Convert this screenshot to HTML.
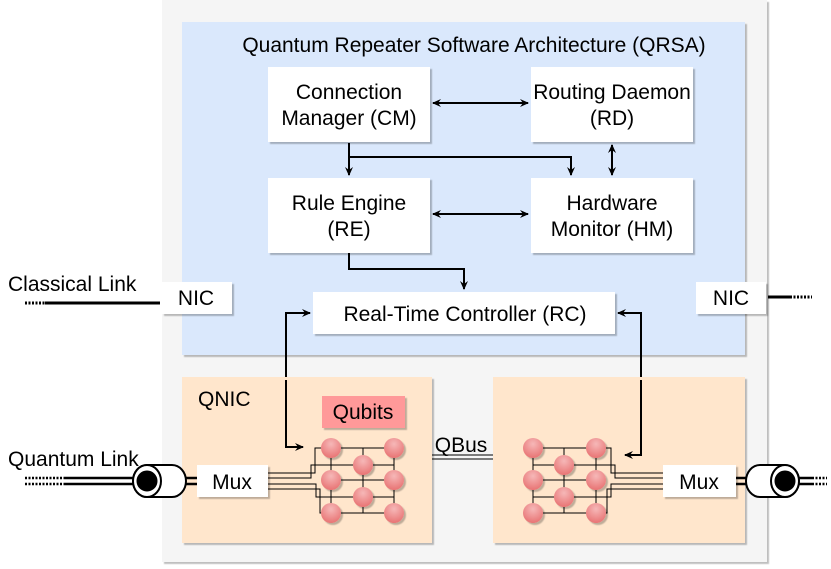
<!DOCTYPE html>
<html><head><meta charset="utf-8"><style>
html,body{margin:0;padding:0;background:#fff}
svg{display:block}
text{font-family:"Liberation Sans",sans-serif;fill:#000}
</style></head><body>
<svg width="831" height="569" viewBox="0 0 831 569" xmlns="http://www.w3.org/2000/svg">
<defs>
<marker id="a" markerWidth="10" markerHeight="10" refX="8" refY="5" orient="auto-start-reverse" markerUnits="userSpaceOnUse"><path d="M0,1 L9,5 L0,9 L3,5 Z" fill="#000"/></marker>
<radialGradient id="q" cx="0.5" cy="0.3" r="0.7"><stop offset="0" stop-color="#f6b8b8"/><stop offset="1" stop-color="#e87474"/></radialGradient>
<filter id="s" x="-10%" y="-10%" width="130%" height="130%"><feDropShadow dx="2" dy="2" stdDeviation="0.5" flood-color="#000" flood-opacity="0.25"/></filter>
</defs>
<rect x="162" y="0" width="605" height="562" fill="#f5f5f5" filter="url(#s)"/>
<rect x="182" y="22" width="563" height="333" fill="#dae8fc" filter="url(#s)"/>
<text x="474" y="52" font-size="21" text-anchor="middle">Quantum Repeater Software Architecture (QRSA)</text>
<g filter="url(#s)" fill="#fff">
<rect x="268" y="67" width="162" height="75"/>
<rect x="531" y="67" width="162" height="75"/>
<rect x="268" y="178" width="162" height="75"/>
<rect x="531" y="178" width="162" height="75"/>
<rect x="313" y="292" width="302" height="42"/>
<rect x="162" y="282" width="70" height="32"/>
<rect x="696" y="282" width="70" height="32"/>
</g>
<g font-size="21" text-anchor="middle">
<text x="349" y="99">Connection</text><text x="349" y="125">Manager (CM)</text>
<text x="612" y="99">Routing Daemon</text><text x="612" y="125">(RD)</text>
<text x="349" y="210">Rule Engine</text><text x="349" y="236">(RE)</text>
<text x="612" y="210">Hardware</text><text x="612" y="236">Monitor (HM)</text>
<text x="465" y="321">Real-Time Controller (RC)</text>
<text x="196" y="305">NIC</text><text x="731" y="305">NIC</text>
<text x="461" y="452">QBus</text>
</g>
<g font-size="21">
<text x="8" y="291">Classical Link</text>
<text x="8" y="466">Quantum Link</text>
</g>
<g stroke="#000" stroke-width="2" fill="none">
<line x1="433" y1="103" x2="528" y2="103" marker-start="url(#a)" marker-end="url(#a)"/>
<line x1="433" y1="214" x2="528" y2="214" marker-start="url(#a)" marker-end="url(#a)"/>
<line x1="612" y1="145" x2="612" y2="175" marker-start="url(#a)" marker-end="url(#a)"/>
<line x1="349" y1="143" x2="349" y2="175" marker-end="url(#a)"/>
<polyline points="349,157 571,157 571,175" marker-end="url(#a)"/>
<polyline points="349,253 349,269 464,269 464,289" marker-end="url(#a)"/>
<polyline points="286,380 286,313 310,313" marker-end="url(#a)"/>
<polyline points="641,380 641,313 618,313" marker-end="url(#a)"/>
<line x1="45" y1="303" x2="160" y2="303" stroke-width="3"/>
<line x1="768" y1="297" x2="790" y2="297" stroke-width="3"/>
</g>
<g stroke="#000" stroke-width="3" stroke-dasharray="2,1.5">
<line x1="25" y1="303" x2="45" y2="303"/><line x1="790" y1="297" x2="812" y2="297"/>
</g>
<rect x="182" y="377" width="250" height="166" fill="#ffe6cc" filter="url(#s)"/>
<rect x="493" y="377" width="252" height="166" fill="#ffe6cc" filter="url(#s)"/>
<text x="198" y="406" font-size="21">QNIC</text>
<rect x="322" y="396" width="83" height="32" fill="#ff9999" filter="url(#s)"/>
<text x="363" y="419" font-size="21" text-anchor="middle">Qubits</text>
<g stroke="#000" stroke-width="2" fill="none">
<polyline points="286,380 286,447 303,447" marker-end="url(#a)"/>
<polyline points="641,380 641,455 625,455" marker-end="url(#a)"/>
</g>
<line x1="432" y1="455" x2="493" y2="455" stroke="#000"/><line x1="432" y1="459" x2="493" y2="459" stroke="#000"/>
<rect x="197" y="465" width="71" height="32" fill="#fff" filter="url(#s)"/>
<text x="232" y="489" font-size="21" text-anchor="middle">Mux</text>
<rect x="663" y="465" width="73" height="32" fill="#fff" filter="url(#s)"/>
<text x="699" y="489" font-size="21" text-anchor="middle">Mux</text>
<g stroke="#000" stroke-width="1" fill="none">
<path d="M331,448H394M331,480H394M331,513H394M363,465H394M363,497H394M331,448V513M363,448V513M394,448V513"/>
<path d="M268,473H315V448H331M268,478H311V465H363M268,484H316V497H363M268,489H320V513H331"/>
<path d="M533,448H596M533,480H596M533,513H596M533,465H564M533,497H564M533,448V513M564,448V513M596,448V513"/>
<path d="M663,473H611V448H596M663,478H615V465H564M663,484H611V497H564M663,489H607V513H596"/>
</g>
<g fill="url(#q)" filter="url(#s)">
<circle cx="331" cy="448" r="10"/><circle cx="394" cy="448" r="10"/><circle cx="363" cy="465" r="10"/>
<circle cx="331" cy="480" r="10"/><circle cx="394" cy="480" r="10"/><circle cx="363" cy="497" r="10"/>
<circle cx="331" cy="513" r="10"/><circle cx="394" cy="513" r="10"/>
<circle cx="533" cy="448" r="10"/><circle cx="596" cy="448" r="10"/><circle cx="564" cy="465" r="10"/>
<circle cx="533" cy="480" r="10"/><circle cx="596" cy="480" r="10"/><circle cx="564" cy="497" r="10"/>
<circle cx="533" cy="513" r="10"/><circle cx="596" cy="513" r="10"/>
</g>
<g stroke="#000" fill="none">
<line x1="65" y1="478" x2="135" y2="478" stroke-width="2.5"/><line x1="65" y1="484" x2="135" y2="484" stroke-width="2.5"/>
<line x1="25" y1="478" x2="65" y2="478" stroke-width="2.5" stroke-dasharray="2,1.5"/><line x1="25" y1="484" x2="65" y2="484" stroke-width="2.5" stroke-dasharray="2,1.5"/>
<line x1="185" y1="478" x2="197" y2="478" stroke-width="2.5"/><line x1="185" y1="484" x2="197" y2="484" stroke-width="2.5"/>
<path d="M147,465 H172 A14,16 0 0 1 172,497 H147 A14,16 0 0 1 147,465 Z" fill="#fff" stroke-width="2"/>
<ellipse cx="147" cy="481" rx="14" ry="16" fill="#fff" stroke-width="2"/>
<circle cx="147" cy="481" r="10" fill="#000"/>
<line x1="736" y1="478" x2="748" y2="478" stroke-width="2.5"/><line x1="736" y1="484" x2="748" y2="484" stroke-width="2.5"/>
<line x1="795" y1="478" x2="812" y2="478" stroke-width="2.5"/><line x1="795" y1="484" x2="812" y2="484" stroke-width="2.5"/>
<line x1="812" y1="478" x2="827" y2="478" stroke-width="2.5" stroke-dasharray="2,1.5"/><line x1="812" y1="484" x2="827" y2="484" stroke-width="2.5" stroke-dasharray="2,1.5"/>
<path d="M760,465 H785 A14,16 0 0 1 785,497 H760 A14,16 0 0 1 760,465 Z" fill="#fff" stroke-width="2"/>
<ellipse cx="785" cy="481" rx="14" ry="16" fill="#fff" stroke-width="2"/>
<circle cx="785" cy="481" r="10" fill="#000"/>
</g>
</svg>
</body></html>
